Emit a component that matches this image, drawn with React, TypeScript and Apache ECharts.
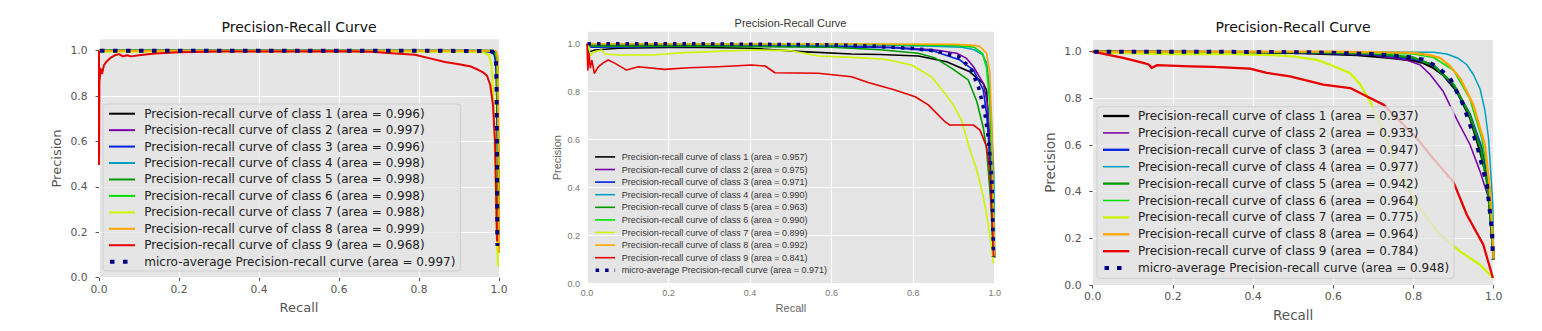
import React, { useEffect, useRef } from "react";
import * as echarts from "echarts";

type Pt = [number, number];

// ---------- shared labels ----------
const chartTitle = "Precision-Recall Curve";
const xName = "Recall";
const yName = "Precision";
const classIds = [1, 2, 3, 4, 5, 6, 7, 8, 9];
const xTicks = [0, 0.2, 0.4, 0.6, 0.8, 1.0];
const yTicks = [0, 0.2, 0.4, 0.6, 0.8, 1.0];
const classColors = ["#000000", "#7800A8", "#0022DD", "#00A0C0", "#009A00", "#00E000", "#CCF500", "#FFA500", "#E60000"];
const microColor = "#000080";

// ---------- left panel ----------
const leftAreas = [0.996, 0.997, 0.996, 0.998, 0.998, 0.998, 0.988, 0.999, 0.968];
const leftMicroArea = 0.997;
const left_c1: Pt[] = [[0, 1], [0.5, 1], [0.96, 0.999], [0.98, 0.995], [0.988, 0.985], [0.993, 0.95], [0.996, 0.7], [0.998, 0.3], [1, 0.11]];
const left_c2: Pt[] = [[0, 1], [0.5, 1], [0.97, 1], [0.985, 0.998], [0.993, 0.98], [0.996, 0.85], [0.998, 0.4], [1, 0.11]];
const left_c3: Pt[] = [[0, 1], [0.5, 1], [0.96, 0.999], [0.98, 0.997], [0.99, 0.985], [0.995, 0.9], [0.998, 0.5], [1, 0.11]];
const left_c4: Pt[] = [[0, 1], [0.6, 1], [0.98, 1], [0.992, 0.995], [0.996, 0.95], [0.998, 0.6], [1, 0.11]];
const left_c5: Pt[] = [[0, 1], [0.6, 1], [0.975, 0.999], [0.99, 0.995], [0.995, 0.96], [0.998, 0.6], [1, 0.11]];
const left_c6: Pt[] = [[0, 1], [0.6, 1], [0.98, 1], [0.99, 0.996], [0.995, 0.97], [0.998, 0.65], [1, 0.11]];
const left_c7: Pt[] = [[0, 1], [0.01, 0.995], [0.3, 0.996], [0.6, 0.996], [0.9, 0.995], [0.96, 0.993], [0.975, 0.98], [0.982, 0.93], [0.986, 0.8], [0.989, 0.6], [0.992, 0.35], [0.995, 0.15], [0.998, 0.05]];
const left_c8: Pt[] = [[0, 1], [0.6, 1], [0.985, 1], [0.993, 0.998], [0.997, 0.97], [0.999, 0.6], [1, 0.11]];
const left_c9: Pt[] = [[0, 1], [0, 0.5], [0.001, 0.86], [0.004, 0.92], [0.008, 0.9], [0.012, 0.935], [0.02, 0.955], [0.03, 0.97], [0.04, 0.98], [0.05, 0.985], [0.06, 0.975], [0.07, 0.98], [0.08, 0.975], [0.1, 0.98], [0.14, 0.988], [0.2, 0.993], [0.3, 0.996], [0.45, 0.997], [0.6, 0.998], [0.68, 0.995], [0.74, 0.988], [0.79, 0.982], [0.83, 0.965], [0.865, 0.95], [0.9, 0.94], [0.93, 0.93], [0.948, 0.916], [0.96, 0.905], [0.97, 0.89], [0.978, 0.85], [0.985, 0.76], [0.99, 0.6], [0.993, 0.35], [0.995, 0.16]];
const left_micro: Pt[] = [[0, 1], [0.6, 1], [0.97, 0.999], [0.985, 0.995], [0.992, 0.97], [0.994, 0.85], [0.995, 0.5], [0.996, 0.14]];

// ---------- middle panel ----------
const midAreas = [0.957, 0.975, 0.971, 0.99, 0.963, 0.99, 0.899, 0.992, 0.841];
const midMicroArea = 0.971;
const mid_c1: Pt[] = [[0, 1], [0.004, 0.965], [0.02, 0.974], [0.077, 0.981], [0.24, 0.985], [0.404, 0.981], [0.527, 0.967], [0.649, 0.957], [0.719, 0.955], [0.813, 0.949], [0.882, 0.925], [0.939, 0.883], [0.972, 0.835], [0.98, 0.807], [0.983, 0.72], [0.99, 0.45], [0.995, 0.2], [1, 0.11]];
const mid_c2: Pt[] = [[0, 1], [0.01, 0.99], [0.3, 0.993], [0.6, 0.99], [0.75, 0.985], [0.85, 0.975], [0.907, 0.96], [0.93, 0.94], [0.948, 0.904], [0.972, 0.835], [0.982, 0.75], [0.988, 0.6], [0.993, 0.35], [1, 0.11]];
const mid_c3: Pt[] = [[0, 1], [0.01, 0.985], [0.3, 0.99], [0.6, 0.988], [0.75, 0.983], [0.85, 0.97], [0.915, 0.932], [0.948, 0.89], [0.972, 0.807], [0.98, 0.71], [0.987, 0.55], [0.993, 0.3], [1, 0.11]];
const mid_c4: Pt[] = [[0, 1], [0.3, 0.997], [0.7, 0.995], [0.85, 0.99], [0.92, 0.985], [0.95, 0.975], [0.97, 0.955], [0.98, 0.92], [0.988, 0.8], [0.994, 0.6], [0.998, 0.45], [1, 0.11]];
const mid_c5: Pt[] = [[0, 1], [0.01, 0.99], [0.3, 0.99], [0.6, 0.985], [0.719, 0.975], [0.813, 0.96], [0.854, 0.94], [0.895, 0.897], [0.935, 0.849], [0.956, 0.76], [0.972, 0.65], [0.98, 0.56], [0.99, 0.35], [0.996, 0.15], [1, 0.11]];
const mid_c6: Pt[] = [[0, 1], [0.3, 0.998], [0.7, 0.997], [0.9, 0.993], [0.95, 0.985], [0.97, 0.96], [0.98, 0.9], [0.988, 0.75], [0.993, 0.5], [0.997, 0.2], [1, 0.11]];
const mid_c7: Pt[] = [[0, 1], [0.004, 0.99], [0.008, 0.95], [0.015, 0.965], [0.036, 0.974], [0.044, 0.957], [0.077, 0.953], [0.159, 0.953], [0.24, 0.963], [0.404, 0.974], [0.502, 0.971], [0.567, 0.949], [0.649, 0.943], [0.731, 0.935], [0.796, 0.911], [0.845, 0.862], [0.878, 0.793], [0.9, 0.74], [0.919, 0.68], [0.937, 0.57], [0.956, 0.474], [0.972, 0.363], [0.984, 0.252], [0.992, 0.15], [0.997, 0.085]];
const mid_c8: Pt[] = [[0, 1], [0.3, 0.999], [0.7, 0.999], [0.9, 0.997], [0.95, 0.993], [0.964, 0.988], [0.98, 0.96], [0.988, 0.88], [0.993, 0.65], [0.997, 0.3], [1, 0.11]];
const mid_c9: Pt[] = [[0, 1], [0.002, 0.89], [0.005, 0.96], [0.008, 0.9], [0.012, 0.93], [0.018, 0.877], [0.028, 0.904], [0.04, 0.92], [0.052, 0.932], [0.069, 0.918], [0.097, 0.89], [0.126, 0.904], [0.19, 0.893], [0.25, 0.9], [0.322, 0.904], [0.404, 0.911], [0.437, 0.907], [0.461, 0.879], [0.567, 0.877], [0.649, 0.862], [0.69, 0.838], [0.755, 0.807], [0.805, 0.779], [0.837, 0.745], [0.878, 0.675], [0.89, 0.661], [0.948, 0.661], [0.964, 0.64], [0.98, 0.571], [0.988, 0.474], [0.993, 0.295], [0.997, 0.112]];
const mid_micro: Pt[] = [[0, 1], [0.3, 0.999], [0.6, 0.995], [0.7, 0.99], [0.8, 0.98], [0.854, 0.97], [0.911, 0.946], [0.94, 0.9], [0.96, 0.821], [0.976, 0.71], [0.984, 0.612], [0.99, 0.5], [0.993, 0.43], [0.996, 0.2], [0.997, 0.112]];

// ---------- right panel ----------
const rightAreas = [0.937, 0.933, 0.947, 0.977, 0.942, 0.964, 0.775, 0.964, 0.784];
const rightMicroArea = 0.948;
const right_c1: Pt[] = [[0, 1], [0.3, 0.998], [0.5, 0.995], [0.66, 0.985], [0.74, 0.973], [0.8, 0.962], [0.824, 0.952], [0.85, 0.93], [0.874, 0.9], [0.908, 0.83], [0.941, 0.716], [0.966, 0.573], [0.983, 0.459], [0.992, 0.3], [0.996, 0.2], [1, 0.11]];
const right_c2: Pt[] = [[0, 1], [0.5, 0.997], [0.7, 0.985], [0.78, 0.965], [0.816, 0.944], [0.84, 0.905], [0.874, 0.83], [0.908, 0.71], [0.941, 0.601], [0.966, 0.487], [0.987, 0.373], [0.995, 0.2], [1, 0.11]];
const right_c3: Pt[] = [[0, 1], [0.5, 0.998], [0.7, 0.99], [0.8, 0.97], [0.849, 0.944], [0.899, 0.859], [0.941, 0.73], [0.97, 0.587], [0.987, 0.43], [0.995, 0.25], [1, 0.11]];
const right_c4: Pt[] = [[0, 1], [0.6, 1], [0.8, 0.998], [0.85, 0.997], [0.883, 0.99], [0.91, 0.973], [0.933, 0.944], [0.95, 0.9], [0.966, 0.84], [0.978, 0.75], [0.987, 0.63], [0.994, 0.45], [0.998, 0.34], [1, 0.11]];
const right_c5: Pt[] = [[0, 1], [0.5, 0.998], [0.7, 0.992], [0.8, 0.975], [0.85, 0.94], [0.9, 0.86], [0.94, 0.73], [0.968, 0.58], [0.985, 0.42], [0.995, 0.22], [1, 0.11]];
const right_c6: Pt[] = [[0, 1], [0.6, 0.999], [0.8, 0.99], [0.85, 0.975], [0.9, 0.92], [0.94, 0.8], [0.97, 0.63], [0.988, 0.45], [0.996, 0.25], [1, 0.11]];
const right_c7: Pt[] = [[0, 1], [0.05, 0.995], [0.2, 0.99], [0.35, 0.99], [0.45, 0.985], [0.5, 0.98], [0.559, 0.965], [0.592, 0.944], [0.642, 0.908], [0.667, 0.86], [0.692, 0.785], [0.725, 0.659], [0.766, 0.487], [0.808, 0.344], [0.866, 0.216], [0.916, 0.144], [0.966, 0.087], [0.999, 0.03]];
const right_c8: Pt[] = [[0, 1], [0.6, 1], [0.8, 0.995], [0.84, 0.985], [0.866, 0.973], [0.89, 0.94], [0.916, 0.887], [0.949, 0.773], [0.978, 0.601], [0.99, 0.42], [0.996, 0.25], [1, 0.11]];
const right_c9: Pt[] = [[0, 1], [0.076, 0.973], [0.126, 0.952], [0.14, 0.945], [0.147, 0.93], [0.16, 0.942], [0.243, 0.937], [0.3, 0.935], [0.392, 0.927], [0.434, 0.909], [0.492, 0.894], [0.575, 0.859], [0.642, 0.844], [0.683, 0.809], [0.725, 0.773], [0.808, 0.63], [0.85, 0.54], [0.899, 0.444], [0.933, 0.301], [0.974, 0.173], [0.998, 0.03]];
const right_micro: Pt[] = [[0, 1], [0.4, 0.999], [0.55, 0.997], [0.7, 0.99], [0.8, 0.975], [0.824, 0.966], [0.86, 0.935], [0.891, 0.887], [0.924, 0.773], [0.958, 0.601], [0.983, 0.43], [0.996, 0.23], [0.998, 0.11]];

// ---------- layout / style (not data) ----------
type PanelStyle = {
  grid: { left: number; top: number; width: number; height: number };
  font: string;
  bg: string;
  titleX: number; titleY: number; titleSize: number; titleColor: string;
  tickSize: number; tickColor: string; labelSize: number; labelColor: string;
  xLabelMargin: number; yLabelMargin: number; xNameGap: number; yNameGap: number;
  showTicks: boolean;
  lineWidths: number[]; microWidth: number; microDash: number[]; microDashOffset: number;
  legend: {
    left: number; top: number; itemWidth: number; itemHeight: number; itemGap: number;
    padding: number[]; textPad: number; fontSize: number; boxed: boolean; textColor: string;
  };
};

const leftStyle: PanelStyle = {
  grid: { left: 99, top: 39.35, width: 400, height: 238.35 },
  font: "DejaVu Sans", bg: "#E5E5E5",
  titleX: 299, titleY: 27, titleSize: 14, titleColor: "#111",
  tickSize: 10.7, tickColor: "#555", labelSize: 13, labelColor: "#555",
  xLabelMargin: 6, yLabelMargin: 11.5, xNameGap: 23, yNameGap: 36, showTicks: true,
  lineWidths: [2, 2, 2, 2, 2, 2, 2, 2, 2], microWidth: 4, microDash: [4.5, 8.5], microDashOffset: 11.5,
  legend: { left: 103, top: 104, itemWidth: 26, itemHeight: 14, itemGap: 2.44, padding: [2.7, 5, 2.3, 4], textPad: 4.3, fontSize: 12, boxed: true, textColor: "#222" },
};
const midStyle: PanelStyle = {
  grid: { left: 587, top: 31.7, width: 407.7, height: 252 },
  font: "Liberation Sans", bg: "#E5E5E5",
  titleX: 790.5, titleY: 23.3, titleSize: 11, titleColor: "#333",
  tickSize: 9, tickColor: "#777", labelSize: 11, labelColor: "#666",
  xLabelMargin: 5, yLabelMargin: 7, xNameGap: 16, yNameGap: 25, showTicks: false,
  lineWidths: [1.6, 1.6, 1.6, 1.6, 1.6, 1.6, 1.6, 1.6, 1.6], microWidth: 3.6, microDash: [3.5, 6], microDashOffset: 8.5,
  legend: { left: 593.3, top: 151.4, itemWidth: 20, itemHeight: 11, itemGap: 1.6, padding: [0, 0, 0, 0], textPad: 1.7, fontSize: 9, boxed: false, textColor: "#333" },
};
const rightStyle: PanelStyle = {
  grid: { left: 1092.7, top: 40, width: 401, height: 245 },
  font: "DejaVu Sans", bg: "#E5E5E5",
  titleX: 1293, titleY: 27.3, titleSize: 14, titleColor: "#111",
  tickSize: 10.9, tickColor: "#555", labelSize: 13.5, labelColor: "#555",
  xLabelMargin: 6, yLabelMargin: 11, xNameGap: 23, yNameGap: 35.5, showTicks: true,
  lineWidths: [2.3, 1.5, 2.3, 1.5, 2.3, 1.5, 2.3, 2.3, 2.3], microWidth: 4, microDash: [4.5, 8], microDashOffset: 11,
  legend: { left: 1097, top: 106.7, itemWidth: 26.3, itemHeight: 14, itemGap: 2.9, padding: [2.3, 5, 3.2, 4], textPad: 3.7, fontSize: 12, boxed: true, textColor: "#222" },
};

const className = (id: number, area: number) => `Precision-recall curve of class ${id} (area = ${area.toFixed(3)})`;
const microName = (area: number) => `micro-average Precision-recall curve (area = ${area.toFixed(3)})`;

function buildPanel(idx: number, st: PanelStyle, curves: Pt[][], areas: number[], micro: Pt[], microArea: number) {
  const names = classIds.map((id, i) => className(id, areas[i]));
  const mName = microName(microArea);
  const series: any[] = curves.map((c, i) => ({
    type: "line", name: names[i], xAxisIndex: idx, yAxisIndex: idx, data: c,
    symbol: "none", showSymbol: false, color: classColors[i],
    lineStyle: { color: classColors[i], width: st.lineWidths[i], join: "round" },
    z: 2, animation: false,
  }));
  series.push({
    type: "line", name: mName, xAxisIndex: idx, yAxisIndex: idx, data: micro,
    symbol: "none", showSymbol: false, color: microColor,
    lineStyle: { color: microColor, width: st.microWidth, type: st.microDash, dashOffset: st.microDashOffset, cap: "butt" },
    z: 3, animation: false,
  });
  const grid = { ...st.grid, show: true, backgroundColor: st.bg, borderWidth: 0, containLabel: false, outerBoundsMode: "none" };
  const xAxis = {
    type: "value", gridIndex: idx, min: 0, max: 1, interval: 0.2,
    name: xName, nameLocation: "middle", nameGap: st.xNameGap,
    nameTextStyle: { fontFamily: st.font, fontSize: st.labelSize, color: st.labelColor },
    axisLine: { show: false },
    axisTick: { show: st.showTicks, length: 3.5, lineStyle: { color: "#555", width: 1 } },
    axisLabel: { margin: st.xLabelMargin, fontFamily: st.font, fontSize: st.tickSize, color: st.tickColor, formatter: (v: number) => v.toFixed(1), customValues: xTicks, showMinLabel: true, showMaxLabel: true },
    splitLine: { show: true, lineStyle: { color: "#FFFFFF", width: 1.2 } },
  };
  const yAxis = {
    type: "value", gridIndex: idx, min: 0, max: 1.05, interval: 0.2,
    name: yName, nameLocation: "middle", nameGap: st.yNameGap, nameRotate: 90,
    nameTextStyle: { fontFamily: st.font, fontSize: st.labelSize, color: st.labelColor },
    axisLine: { show: false },
    axisTick: { show: st.showTicks, length: 3.5, lineStyle: { color: "#555", width: 1 }, customValues: yTicks },
    axisLabel: { margin: st.yLabelMargin, fontFamily: st.font, fontSize: st.tickSize, color: st.tickColor, formatter: (v: number) => (v > 1.001 ? "" : v.toFixed(1)), customValues: yTicks },
    splitLine: { show: true, showMaxLine: false, lineStyle: { color: "#FFFFFF", width: 1.2 } },
  };
  const L = st.legend;
  const legend = {
    data: [...names, mName], orient: "vertical", left: L.left, top: L.top,
    itemWidth: L.itemWidth, itemHeight: L.itemHeight, itemGap: L.itemGap, padding: L.padding,
    selectedMode: false,
    backgroundColor: L.boxed ? "rgba(229,229,229,0.8)" : "transparent",
    borderColor: L.boxed ? "rgba(204,204,204,0.8)" : "transparent",
    borderWidth: L.boxed ? 1 : 0, borderRadius: L.boxed ? 3 : 0,
    itemStyle: { opacity: 0 },
    lineStyle: { width: "inherit" },
    textStyle: { fontFamily: st.font, fontSize: L.fontSize, color: L.textColor, lineHeight: L.itemHeight, padding: [0, 0, 0, L.textPad] },
    z: 10,
  };
  const title = {
    type: "text", x: st.titleX, y: st.titleY, z: 10,
    style: { text: chartTitle, fill: st.titleColor, fontFamily: st.font, fontSize: st.titleSize, align: "center", verticalAlign: "middle" },
  };
  return { grid, xAxis, yAxis, series, legend, title };
}

export default function App() {
  const ref = useRef<HTMLDivElement>(null);
  useEffect(() => {
    if (!ref.current) return;
    const chart = echarts.init(ref.current, undefined, { renderer: "svg" });
    const panels = [
      buildPanel(0, leftStyle, [left_c1, left_c2, left_c3, left_c4, left_c5, left_c6, left_c7, left_c8, left_c9], leftAreas, left_micro, leftMicroArea),
      buildPanel(1, midStyle, [mid_c1, mid_c2, mid_c3, mid_c4, mid_c5, mid_c6, mid_c7, mid_c8, mid_c9], midAreas, mid_micro, midMicroArea),
      buildPanel(2, rightStyle, [right_c1, right_c2, right_c3, right_c4, right_c5, right_c6, right_c7, right_c8, right_c9], rightAreas, right_micro, rightMicroArea),
    ];
    chart.setOption({
      animation: false,
      backgroundColor: "#FFFFFF",
      grid: panels.map((p) => p.grid),
      xAxis: panels.map((p) => p.xAxis),
      yAxis: panels.map((p) => p.yAxis),
      legend: panels.map((p) => p.legend),
      series: panels.flatMap((p) => p.series),
      graphic: panels.map((p) => p.title),
    } as any);
    return () => chart.dispose();
  }, []);
  return <div ref={ref} style={{ position: "absolute", left: 0, top: 0, width: 1542, height: 331 }} />;
}
